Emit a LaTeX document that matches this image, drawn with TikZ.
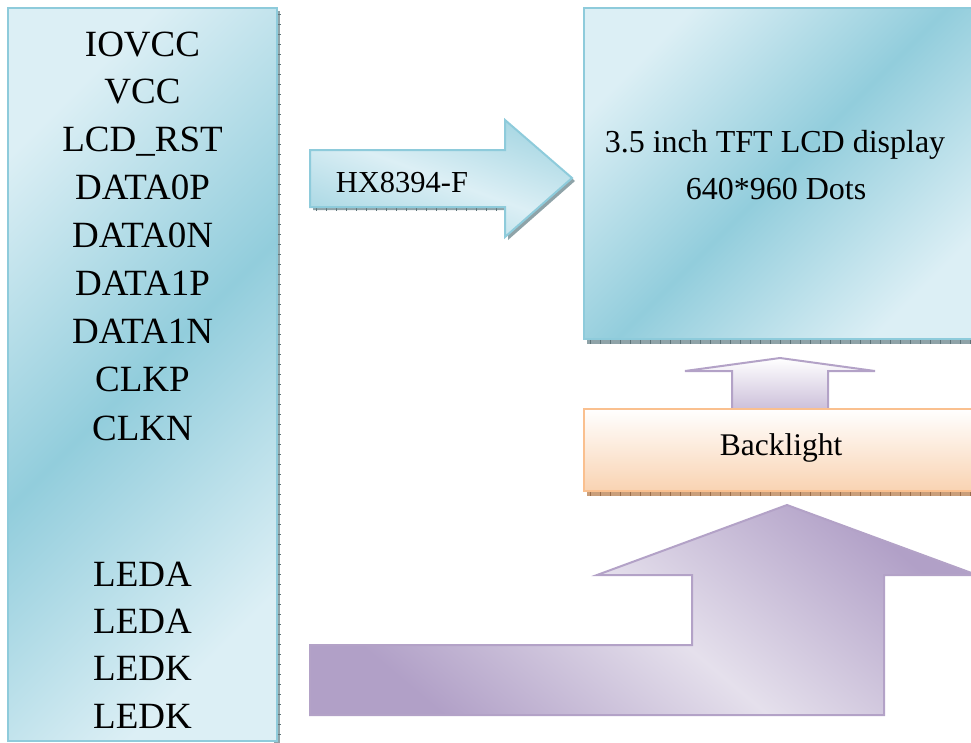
\documentclass[tikz,border=0pt]{standalone}
\usepackage{fontspec}
\setmainfont{Liberation Serif}
\definecolor{aqlight}{HTML}{DCEFF5}
\definecolor{aqdark}{HTML}{92CDDC}
\definecolor{aqline}{HTML}{8ECBDB}
\definecolor{aqshadow}{HTML}{8FA3A8}
\definecolor{aqtick}{HTML}{5E7478}
\definecolor{lvline}{HTML}{B3A2C7}
\definecolor{lvdark}{HTML}{B1A0C7}
\definecolor{lvlight}{HTML}{E5E0EC}
\definecolor{lvmid}{HTML}{CCC0DA}
\definecolor{orline}{HTML}{FAC08F}
\definecolor{orfill}{HTML}{F9D3B2}
\definecolor{orshadow}{HTML}{C99E7A}
\definecolor{ortick}{HTML}{9A6E4C}
\tikzset{
  aqbox/.style={draw=aqline, line width=2pt, top color=aqlight, bottom color=aqlight, middle color=aqdark, shading angle=45},
  shadowblue/.style={fill=aqshadow},
  shadoworange/.style={fill=orshadow},
  tickblue/.style={draw=aqtick, line width=4pt, dash pattern=on 0.8pt off 9.2pt},
  tickorange/.style={draw=ortick, line width=4pt, dash pattern=on 0.8pt off 9.2pt},
  lefttxt/.style={anchor=base, font=\fontsize{37}{40}\selectfont, inner sep=0pt},
  righttxt/.style={anchor=base, font=\fontsize{32}{36}\selectfont, inner sep=0pt},
}
\begin{document}
\begin{tikzpicture}[x=1pt, y=-1pt]
\useasboundingbox (0,0) rectangle (971,742);
% left box
\fill[shadowblue] (274,11) rectangle (280,746);
\path[tickblue] (278.5,14) -- (278.5,746);
\path[aqbox] (8,8) rectangle (277,741);
\foreach \t/\yy [count=\i] in {IOVCC/44, VCC/91, LCD\_RST/139, DATA0P/187, DATA0N/235, DATA1P/283, DATA1N/331, CLKP/379, CLKN/428, LEDA/574, LEDA/621, LEDK/668, LEDK/716}
  \node[lefttxt] (l\i) at (142.5,\yy+12.5) {\t};
% right box
\fill[shadowblue] (587,336) rectangle (980,344);
\path[tickblue] (590,341.5) -- (980,341.5);
\path[aqbox] (584,8) rectangle (980,339);
\node[righttxt] (t1) at (775,152) {3.5 inch TFT LCD display};
\node[righttxt] (t2) at (776,199) {640*960 Dots};
% HX arrow
\fill[shadowblue] (313,153) -- (508,153) -- (508,123) -- (575,181) -- (508,240) -- (508,210) -- (313,210) -- cycle;
\path[tickblue, line width=3pt] (316,209) -- (506,209);
\path[draw=aqline, line width=2pt, top color=aqdark!80, bottom color=aqdark!80, middle color=aqlight, shading angle=-20]
  (310,150) -- (505,150) -- (505,120) -- (572,178) -- (505,237) -- (505,207) -- (310,207) -- cycle;
\node[righttxt, font=\fontsize{30.5}{34}\selectfont] (hx) at (402,192) {HX8394-F};
% small up arrow
\path[draw=lvline, line width=2pt, top color=white, bottom color=lvmid]
  (732,409) -- (732,371) -- (685,371) -- (780,358) -- (875,371) -- (828,371) -- (828,409);
% backlight
\fill[shadoworange] (587,488) rectangle (980,496);
\path[tickorange] (590,493.5) -- (980,493.5);
\path[draw=orline, line width=2pt, top color=white, bottom color=orfill] (584,409) rectangle (980,491);
\node[righttxt, font=\fontsize{31.5}{36}\selectfont] (bl) at (781,455) {Backlight};
% big arrow
\path[draw=lvline, line width=2pt, top color=lvdark, bottom color=lvdark, middle color=lvlight, shading angle=-40]
  (310,645) -- (692,645) -- (692,575) -- (597,575) -- (787,505) -- (977,575) -- (884,575) -- (884,715) -- (310,715) -- cycle;
\end{tikzpicture}
\end{document}
